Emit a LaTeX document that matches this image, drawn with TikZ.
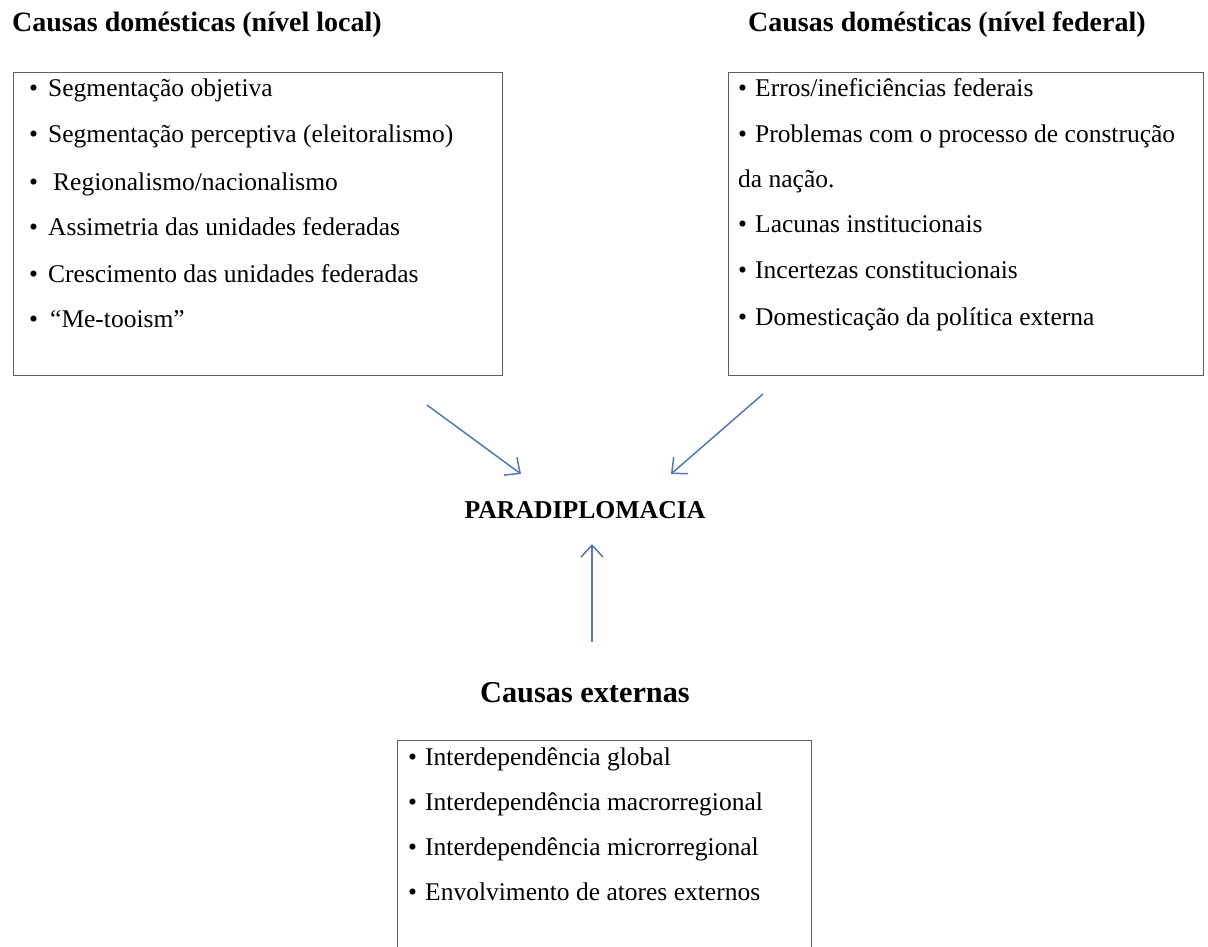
\documentclass[tikz,border=0pt]{standalone}
\usepackage{fontspec}
\setmainfont{Liberation Serif}
\usetikzlibrary{arrows.meta}
\definecolor{arrowblue}{RGB}{84,120,175}
\definecolor{boxgray}{RGB}{95,95,95}
\newcommand{\bitem}[2]{\makebox[#1][l]{\textbullet}#2}
\begin{document}
\begin{tikzpicture}[x=1pt,y=-1pt,
  box/.style={draw=boxgray, line width=1.4pt, rectangle, inner sep=0pt, anchor=north west},
  item/.style={anchor=base west, inner sep=0pt, font=\fontsize{25.5}{30}\selectfont},
  heading/.style={anchor=base west, inner sep=0pt, font=\fontsize{28}{32}\selectfont\bfseries},
  conn/.style={draw=arrowblue, line width=1.5pt, -{Straight Barb[length=12pt,width=22pt,line width=1.5pt]}}
]
\clip (0,0) rectangle (1208,947);
\fill[white] (0,0) rectangle (1208,947);

% headings
\node[heading] (tl) at (12,32) {Causas domésticas (nível local)};
\node[heading] (tr) at (748,32) {Causas domésticas (nível federal)};

% boxes
\node[box, minimum width=489pt, minimum height=303pt] (lbox) at (13,72) {};
\node[box, minimum width=475pt, minimum height=303pt] (rbox) at (728,72) {};
\node[box, minimum width=414pt, minimum height=240pt] (bbox) at (397,740) {};

% left items
\node[item] (l1) at (29,97)  {\bitem{19pt}{Segmentação objetiva}};
\node[item] (l2) at (29,143) {\bitem{19pt}{Segmentação perceptiva (eleitoralismo)}};
\node[item] (l3) at (29,190) {\bitem{24pt}{Regionalismo/nacionalismo}};
\node[item] (l4) at (29,235) {\bitem{19pt}{Assimetria das unidades federadas}};
\node[item] (l5) at (29,282) {\bitem{19pt}{Crescimento das unidades federadas}};
\node[item] (l6) at (29,327) {\bitem{21pt}{“Me-tooism”}};

% right items
\node[item] (r1) at (738,97)  {\bitem{17pt}{Erros/ineficiências federais}};
\node[item] (r2) at (738,143) {\bitem{17pt}{Problemas com o processo de construção}};
\node[item] (r2b) at (738,187) {da nação.};
\node[item] (r3) at (738,233) {\bitem{17pt}{Lacunas institucionais}};
\node[item] (r4) at (738,278) {\bitem{17pt}{Incertezas constitucionais}};
\node[item] (r5) at (738,325) {\bitem{17pt}{Domesticação da política externa}};

% bottom items
\node[item] (b1) at (408,765) {\bitem{17pt}{Interdependência global}};
\node[item] (b2) at (408,810) {\bitem{17pt}{Interdependência macrorregional}};
\node[item] (b3) at (408,855) {\bitem{17pt}{Interdependência microrregional}};
\node[item] (b4) at (408,900) {\bitem{17pt}{Envolvimento de atores externos}};

% centre
\node[anchor=base, inner sep=0pt, font=\fontsize{25.7}{30}\selectfont\bfseries] (para) at (585,518) {PARADIPLOMACIA};
\node[anchor=base, inner sep=0pt, font=\fontsize{30.3}{34}\selectfont\bfseries] (ext) at (585,702) {Causas externas};

% arrows
\coordinate (al) at (427,405);
\coordinate (alt) at (521,474);
\coordinate (ar) at (763,394);
\coordinate (art) at (671,474);
\coordinate (au) at (592,642);
\coordinate (aut) at (592,544);
\draw[conn] (al) -- (alt);
\draw[conn] (ar) -- (art);
\draw[conn] (au) -- (aut);
\end{tikzpicture}
\end{document}
